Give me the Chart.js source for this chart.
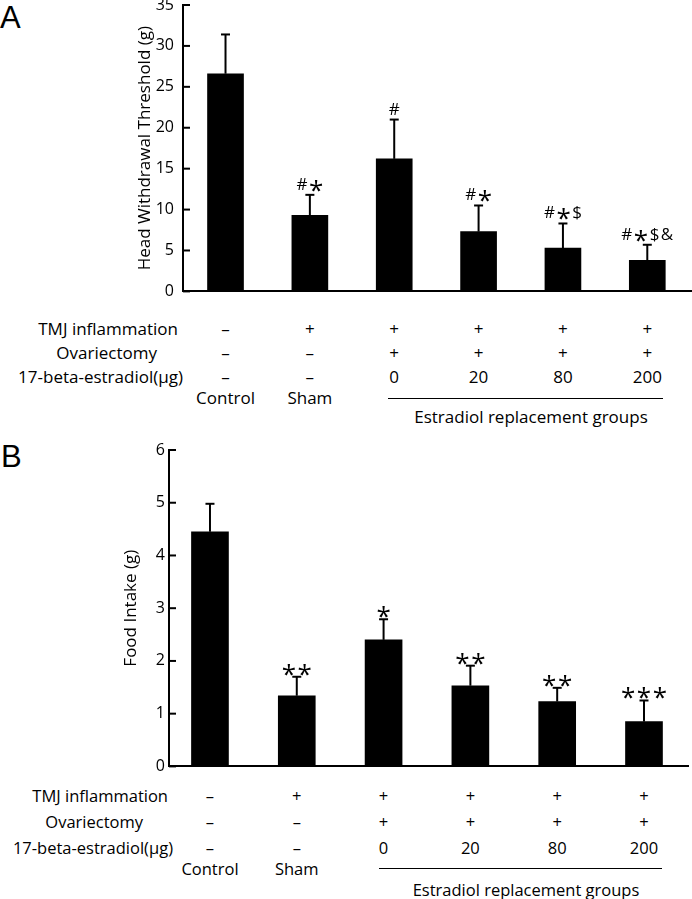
<!DOCTYPE html>
<html>
<head>
<meta charset="utf-8">
<script src="https://cdn.jsdelivr.net/npm/chart.js@4.4.1/dist/chart.umd.min.js"></script>
<style>
body { margin: 0; background: #fff; }
#wrap { position: relative; width: 692px; height: 899px; overflow: hidden; font-family: 'Open Sans', sans-serif; color: #000; }
canvas { position: absolute; left: 0; }
.t { position: absolute; white-space: nowrap; line-height: 20px; height: 20px; }
.painel { position: absolute; font-family: 'Liberation Sans', Arial, sans-serif; font-size: 31px; line-height: 31px; }
.regua { position: absolute; height: 0; border-top: 1.5px solid #000; }
</style>
</head>
<body>
<div id="wrap">
  <div class="painel" style="left:0px;top:2px">A</div>
  <canvas id="graficoA" width="692" height="330" style="top:-20px"></canvas>
  <div class="painel" style="left:1px;top:441px">B</div>
  <canvas id="graficoB" width="692" height="350" style="top:430px"></canvas>
</div>
<script>
// grupos e linhas da tabela
var grupos = ['Control', 'Sham', 'E2 0', 'E2 20', 'E2 80', 'E2 200'];
var nomesGrupo = ['Control', 'Sham', '', '', '', ''];
var rotulosLinhas = ['TMJ inflammation', 'Ovariectomy', '17-beta-estradiol(\u00b5g)'];
var linhaTMJ = ['\u2013', '+', '+', '+', '+', '+'];
var linhaOvx = ['\u2013', '\u2013', '+', '+', '+', '+'];
var linhaEstradiol = ['\u2013', '\u2013', '0', '20', '80', '200'];

// painel A
var limiarMedia = [26.6, 9.3, 16.2, 7.3, 5.3, 3.8];
var limiarErro = [4.8, 2.5, 4.8, 3.2, 3.0, 1.9];
var limiarMarcas = ['', '#*', '#', '#*', '#*$', '#*$&'];
var limiarTicks = [0, 5, 10, 15, 20, 25, 30, 35];

// painel B
var consumoMedia = [4.45, 1.34, 2.40, 1.53, 1.23, 0.85];
var consumoErro = [0.53, 0.36, 0.39, 0.38, 0.26, 0.40];
var consumoMarcas = ['', '**', '*', '**', '**', '***'];
var consumoTicks = [0, 1, 2, 3, 4, 5, 6];

Chart.defaults.color = '#000';
Chart.defaults.font.family = "'Open Sans', sans-serif";

var wrap = document.getElementById('wrap');

function desenharMarca(ctx, texto, cx, cy) {
  if (!texto) return;
  var partes = [];
  var total = 0;
  for (var k = 0; k < texto.length; k++) {
    var c = texto[k];
    var fonte = c == '*' ? "26px 'Open Sans'" : "17px 'Open Sans'";
    ctx.font = fonte;
    var w = ctx.measureText(c).width;
    partes.push({ c: c, fonte: fonte, w: w });
    total += w;
  }
  total += (partes.length - 1) * 1.5;
  var x = cx - total / 2;
  ctx.fillStyle = '#000';
  ctx.textAlign = 'left';
  ctx.textBaseline = 'alphabetic';
  for (var p = 0; p < partes.length; p++) {
    ctx.font = partes[p].fonte;
    var base = partes[p].c == '*' ? cy + 15 : cy + 6;
    ctx.fillText(partes[p].c, x, base);
    x += partes[p].w + 1.5;
  }
}

var pluginErro = {
  id: 'erro',
  afterDatasetsDraw: function (chart) {
    var ctx = chart.ctx;
    var y = chart.scales.y;
    var ds = chart.data.datasets[0];
    var meta = chart.getDatasetMeta(0);
    var area = chart.chartArea;
    ctx.save();
    ctx.strokeStyle = '#000';
    ctx.lineWidth = 2;
    for (var t = 0; t < y.ticks.length; t++) {
      var py = y.getPixelForValue(y.ticks[t].value);
      ctx.beginPath();
      ctx.moveTo(area.left, py);
      ctx.lineTo(area.left + 7, py);
      ctx.stroke();
    }
    for (var i = 0; i < meta.data.length; i++) {
      var barra = meta.data[i];
      var topo = y.getPixelForValue(ds.media[i] + ds.erro[i]);
      ctx.beginPath();
      ctx.moveTo(barra.x, barra.y);
      ctx.lineTo(barra.x, topo);
      ctx.stroke();
      ctx.beginPath();
      ctx.moveTo(barra.x - 4.5, topo);
      ctx.lineTo(barra.x + 4.5, topo);
      ctx.stroke();
      desenharMarca(ctx, ds.marcas[i], barra.x, topo - ds.distancia);
    }
    ctx.restore();
  }
};

function plotarPainel(id, media, erro, marcas, ticks, cfg) {
  var pontos = [];
  for (var i = 0; i < media.length; i++) {
    pontos.push({ x: i, y: media[i] });
  }
  var ctx = document.getElementById(id).getContext('2d');
  return new Chart(ctx, {
    type: 'bar',
    data: {
      labels: grupos,
      datasets: [{
        data: pontos,
        media: media,
        erro: erro,
        marcas: marcas,
        distancia: cfg.distancia,
        backgroundColor: '#000',
        borderWidth: 0,
        barThickness: cfg.largura
      }]
    },
    options: {
      responsive: false,
      animation: false,
      layout: { padding: cfg.padding },
      plugins: { legend: { display: false }, tooltip: { enabled: false } },
      scales: {
        x: {
          type: 'linear',
          min: cfg.xMin,
          max: cfg.xMax,
          offset: false,
          grid: { display: false, drawTicks: false },
          ticks: { display: false },
          border: { display: true, color: '#000', width: 2 },
          afterFit: function (s) { s.height = 0; }
        },
        y: {
          min: 0,
          max: ticks[ticks.length - 1],
          grid: { display: false, drawTicks: false },
          border: { display: true, color: '#000', width: 2 },
          ticks: { font: { size: 16 }, padding: cfg.padTick, color: '#000' },
          afterBuildTicks: function (s) {
            s.ticks = ticks.map(function (v) { return { value: v }; });
          },
          afterFit: function (s) { s.width = cfg.eixoX; },
          title: {
            display: true,
            text: cfg.titulo,
            font: { size: 17 },
            color: '#000',
            padding: { top: cfg.tituloX - 10.2, bottom: 0 }
          }
        }
      }
    },
    plugins: [pluginErro]
  });
}

function escreverTexto(txt, x, y, alinhamento, tamanho) {
  var d = document.createElement('div');
  d.className = 't';
  d.textContent = txt;
  d.style.fontSize = tamanho + 'px';
  d.style.top = (y - 10) + 'px';
  if (alinhamento == 'right') {
    d.style.right = (692 - x) + 'px';
  } else {
    d.style.left = x + 'px';
    d.style.transform = 'translateX(-50%)';
  }
  wrap.appendChild(d);
}

function montarTabela(chart, tab) {
  var linhas = [linhaTMJ, linhaOvx, linhaEstradiol];
  for (var r = 0; r < linhas.length; r++) {
    escreverTexto(rotulosLinhas[r], tab.bordaRotulo[r], tab.yLinhas[r], 'right', tab.tamanho);
    for (var i = 0; i < grupos.length; i++) {
      var px = chart.scales.x.getPixelForValue(i);
      escreverTexto(linhas[r][i], px, tab.yLinhas[r], 'center', tab.tamanho);
    }
  }
  for (var j = 0; j < nomesGrupo.length; j++) {
    if (nomesGrupo[j] != '') {
      escreverTexto(nomesGrupo[j], chart.scales.x.getPixelForValue(j), tab.yNomes, 'center', tab.tamanho);
    }
  }
  var regua = document.createElement('div');
  regua.className = 'regua';
  regua.style.left = tab.regua[0] + 'px';
  regua.style.width = (tab.regua[1] - tab.regua[0]) + 'px';
  regua.style.top = tab.regua[2] + 'px';
  wrap.appendChild(regua);
  escreverTexto(tab.textoGrupo, tab.xGrupo, tab.yGrupo, 'center', tab.tamanho);
}

var chartA = plotarPainel('graficoA', limiarMedia, limiarErro, limiarMarcas, limiarTicks, {
  padding: { top: 25, bottom: 12, left: 0, right: 0 },
  xMin: -0.504, xMax: 5.53,
  eixoX: 183, tituloX: 145, padTick: 9, largura: 36, distancia: 11,
  titulo: 'Head Withdrawal Threshold (g)'
});

var chartB = plotarPainel('graficoB', consumoMedia, consumoErro, consumoMarcas, consumoTicks, {
  padding: { top: 20, bottom: 12, left: 0, right: 4 },
  xMin: -0.472, xMax: 5.507,
  eixoX: 169, tituloX: 131, padTick: 4, largura: 37, distancia: 9,
  titulo: 'Food Intake (g)'
});

montarTabela(chartA, {
  tamanho: 17,
  bordaRotulo: [178, 157, 183],
  yLinhas: [329, 353, 377],
  yNomes: 398,
  regua: [388, 663, 398],
  textoGrupo: 'Estradiol replacement groups',
  xGrupo: 531, yGrupo: 417
});

montarTabela(chartB, {
  tamanho: 16.5,
  bordaRotulo: [168, 143, 173],
  yLinhas: [796, 822, 848],
  yNomes: 869,
  regua: [379, 662, 868],
  textoGrupo: 'Estradiol  replacement groups',
  xGrupo: 526, yGrupo: 890
});
</script>
</body>
</html>
